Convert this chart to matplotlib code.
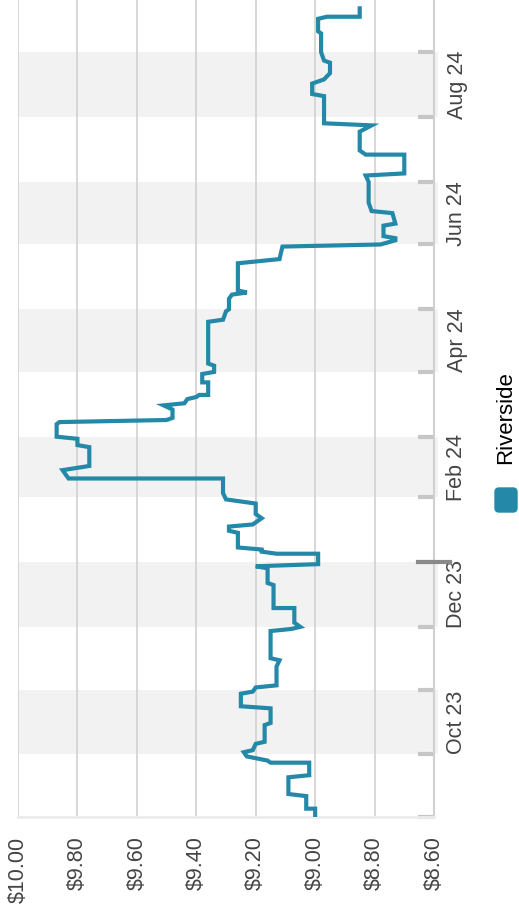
import pandas as pd
import matplotlib
matplotlib.use("Agg")
import matplotlib.pyplot as plt
from matplotlib.patches import FancyBboxPatch
from matplotlib.transforms import IdentityTransform

plt.rcParams['font.family'] = ['Liberation Sans', 'DejaVu Sans']

# price history
dates = [
    '2023-09-02', '2023-09-05', '2023-09-05', '2023-09-11', '2023-09-12', '2023-09-20',
    '2023-09-21', '2023-09-27', '2023-09-27', '2023-09-28', '2023-09-30', '2023-10-02',
    '2023-10-03', '2023-10-06', '2023-10-07', '2023-10-15', '2023-10-16', '2023-10-23',
    '2023-10-24', '2023-10-30', '2023-10-31', '2023-11-02', '2023-11-03', '2023-11-12',
    '2023-11-15', '2023-11-16', '2023-11-29', '2023-11-30', '2023-12-01', '2023-12-03',
    '2023-12-10', '2023-12-10', '2023-12-21', '2023-12-22', '2023-12-29', '2023-12-30',
    '2023-12-31', '2024-01-05', '2024-01-05', '2024-01-06', '2024-01-07', '2024-01-08',
    '2024-01-15', '2024-01-16', '2024-01-18', '2024-01-19', '2024-01-22', '2024-01-24',
    '2024-01-29', '2024-01-31', '2024-02-03', '2024-02-10', '2024-02-10', '2024-02-12',
    '2024-02-14', '2024-02-16', '2024-02-25', '2024-02-26', '2024-02-29', '2024-03-01',
    '2024-03-07', '2024-03-08', '2024-03-09', '2024-03-10', '2024-03-14', '2024-03-16',
    '2024-03-17', '2024-03-19', '2024-03-20', '2024-03-21', '2024-03-21', '2024-03-27',
    '2024-03-27', '2024-03-31', '2024-04-01', '2024-04-04', '2024-04-05', '2024-04-25',
    '2024-04-26', '2024-04-30', '2024-05-01', '2024-05-06', '2024-05-08', '2024-05-09',
    '2024-05-10', '2024-05-23', '2024-05-25', '2024-05-31', '2024-06-01', '2024-06-03',
    '2024-06-04', '2024-06-05', '2024-06-10', '2024-06-11', '2024-06-16', '2024-06-17',
    '2024-06-21', '2024-07-01', '2024-07-04', '2024-07-05', '2024-07-14', '2024-07-14',
    '2024-07-16', '2024-07-25', '2024-07-28', '2024-07-29', '2024-08-11', '2024-08-12',
    '2024-08-17', '2024-08-19', '2024-08-22', '2024-08-27', '2024-08-28', '2024-09-01',
    '2024-09-10', '2024-09-11', '2024-09-17', '2024-09-18', '2024-09-18', '2024-09-22',
]
prices = [
    9.00, 9.00, 9.03, 9.03, 9.09, 9.09,
    9.02, 9.02, 9.15, 9.16, 9.23, 9.24,
    9.21, 9.20, 9.17, 9.17, 9.15, 9.15,
    9.25, 9.25, 9.21, 9.20, 9.13, 9.13,
    9.12, 9.15, 9.15, 9.08, 9.05, 9.07,
    9.07, 9.14, 9.14, 9.16, 9.16, 9.20,
    8.99, 8.99, 9.13, 9.18, 9.18, 9.26,
    9.26, 9.29, 9.29, 9.21, 9.18, 9.20,
    9.20, 9.30, 9.31, 9.31, 9.83, 9.84,
    9.85, 9.76, 9.76, 9.80, 9.80, 9.87,
    9.87, 9.86, 9.50, 9.48, 9.48, 9.51,
    9.44, 9.43, 9.40, 9.39, 9.36, 9.36,
    9.38, 9.38, 9.34, 9.34, 9.36, 9.36,
    9.31, 9.30, 9.29, 9.29, 9.28, 9.23,
    9.26, 9.26, 9.12, 9.11, 8.78, 8.73,
    8.73, 8.77, 8.77, 8.73, 8.74, 8.81,
    8.82, 8.82, 8.83, 8.70, 8.70, 8.83,
    8.85, 8.85, 8.81, 8.97, 8.97, 9.01,
    9.01, 8.97, 8.95, 8.95, 8.97, 8.98,
    8.98, 8.99, 8.99, 8.96, 8.85, 8.85,
]
series_name = 'Riverside'

price_ticks = [10.0, 9.8, 9.6, 9.4, 9.2, 9.0, 8.8, 8.6]
month_starts = pd.date_range('2023-09-01', '2024-09-01', freq='MS')
shaded_months = ['2023-10', '2023-12', '2024-02', '2024-04', '2024-06', '2024-08']

line_color = '#2489a8'
text_color = '#444444'

fig = plt.figure(figsize=(5.19, 9.17), dpi=100)
ax = fig.add_axes([18 / 519, 100 / 917, 416 / 519, 817 / 917])

# alternating month bands + labels
label_pos = []
label_txt = []
for m in shaded_months:
    start = pd.Timestamp(m + '-01')
    end = start + pd.offsets.MonthBegin(1)
    ax.axhspan(start, end, xmin=0, xmax=1.01, color='#f2f2f2', lw=0, zorder=0.2, clip_on=False)
    label_pos.append(start + (end - start) / 2)
    label_txt.append(start.strftime('%b %y'))

ax.plot(prices, pd.to_datetime(dates), color=line_color, lw=3, zorder=3, solid_joinstyle='miter')

ax.set_xlim(10.0, 8.6)
ax.set_ylim(pd.Timestamp('2023-09-01'), pd.Timestamp('2024-09-26'))

ax.set_xticks(price_ticks)
ax.set_xticklabels([f'${p:.2f}' for p in price_ticks])
ax.tick_params(axis='x', length=0, pad=14, labelsize=15.5, labelcolor=text_color, labelrotation=90)

ax.yaxis.tick_right()
ax.set_yticks(month_starts)
ax.set_yticklabels([])
ax.tick_params(axis='y', which='major', direction='in', length=11.5, width=3, color='#c6c6c6')
ax.set_yticks(label_pos, minor=True)
ax.set_yticklabels(label_txt, minor=True)
ax.tick_params(axis='y', which='minor', length=0, pad=9, labelsize=15.5, labelcolor=text_color,
               labelrotation=90)
for t in ax.get_yticklabels(minor=True):
    t.set_va('center')

# year boundary tick
ax.axhline(pd.Timestamp('2024-01-01'), xmin=0.9615, xmax=1.0385, color='#8a8a8a', lw=3,
           clip_on=False, zorder=4)

ax.grid(axis='x', color='#d4d4d4', lw=1.3)
ax.set_axisbelow(True)
for s in ['left', 'top']:
    ax.spines[s].set_visible(False)
ax.spines['right'].set_color('#d0d0d0')
ax.spines['right'].set_linewidth(1.5)
ax.spines['bottom'].set_color('#ececec')
ax.spines['bottom'].set_linewidth(2)

# legend, drawn by hand because it is rotated
fig.add_artist(FancyBboxPatch((495, 917 - 512), 22, 24, boxstyle='round,pad=0,rounding_size=4',
                              transform=IdentityTransform(), color=line_color))
fig.text(506 / 519, 1 - 417.5 / 917, series_name, rotation=90, ha='center', va='center',
         fontsize=16, color='black')

fig.savefig('out.png', dpi=100)
